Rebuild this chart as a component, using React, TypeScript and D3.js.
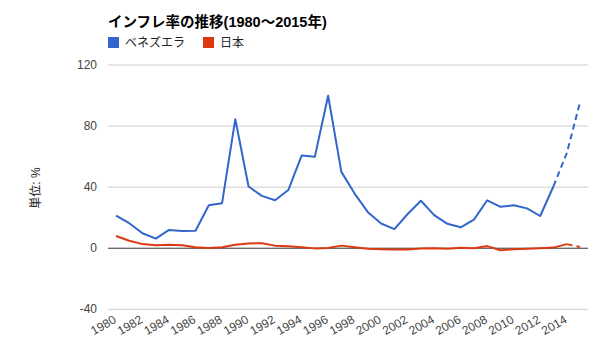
import React from "react";
import * as d3 from "d3";

const years = d3.range(1980, 2016).map(String);
const venezuela = [21.4, 16.4, 9.8, 6.3, 12.0, 11.3, 11.5, 28.2, 29.5, 84.5, 40.4, 34.3, 31.4, 38.1, 60.7, 59.9, 99.9, 50.0, 35.8, 23.6, 16.2, 12.5, 22.4, 31.1, 21.7, 16.0, 13.7, 18.7, 31.4, 27.1, 28.2, 26.1, 21.1, 40.6, 62.2, 95.5];
const japan = [8.0, 4.9, 2.7, 1.9, 2.3, 2.0, 0.6, 0.1, 0.7, 2.3, 3.1, 3.3, 1.7, 1.3, 0.7, -0.1, 0.1, 1.7, 0.7, -0.3, -0.7, -0.8, -0.9, -0.2, 0.0, -0.3, 0.3, 0.0, 1.4, -1.3, -0.7, -0.3, 0.0, 0.4, 2.7, 0.8];
const yTicks = [-40, 0, 40, 80, 120];
const xTickLabels = years.filter((_, i) => i % 2 === 0);
const seriesNames = ["ベネズエラ", "日本"];
const colors = ["#3366cc", "#dc3912"];
const projectedFrom = [2013, 2014];

const FONT = "Arial, 'Liberation Sans', 'Noto Sans CJK JP', sans-serif";

export default function App() {
  const W = 600, H = 360;
  const plotL = 108, plotR = 588;
  const x = d3.scalePoint<string>().domain(years).range([116, 580]);
  const y = d3.scaleLinear().domain([-40, 120]).range([309.3, 65]);

  const series = [venezuela, japan];

  return (
    <svg width={W} height={H} style={{ position: "absolute", left: 0, top: 0, background: "#fff" }} fontFamily={FONT}>
      <text x={108} y={27} fontSize={14.5} fontWeight="bold" fill="#000">インフレ率の推移(1980〜2015年)</text>
      {seriesNames.map((n, i) => {
        const lx = [108, 203][i];
        return (
          <g key={n}>
            <rect x={lx} y={37} width={11} height={11} fill={colors[i]} />
            <text x={lx + 17} y={47} fontSize={12} fill="#222">{n}</text>
          </g>
        );
      })}
      <text transform={`translate(40,${188}) rotate(-90)`} textAnchor="middle" fontSize={12} fill="#222">単位: %</text>
      {yTicks.map(t => (
        <g key={t}>
          <line x1={plotL} x2={plotR} y1={y(t)} y2={y(t)} stroke={t === 0 ? "#333" : "#ccc"} strokeWidth={1} />
          <text x={97} y={y(t) + 4} textAnchor="end" fontSize={12} fill="#444">{t}</text>
        </g>
      ))}
      {series.map((s, i) => {
        const cut = years.indexOf(String(projectedFrom[i]));
        const mk = (offset: number) => d3.line<number>().x((_, j) => x(years[j + offset])!).y(d => y(d));
        return (
          <g key={i} fill="none" stroke={colors[i]} strokeWidth={2}>
            <path d={mk(0)(s.slice(0, cut + 1))!} strokeLinejoin="round" />
            <path d={mk(cut)(s.slice(cut))!} strokeDasharray="6,4" />
          </g>
        );
      })}
      {xTickLabels.map(t => (
        <text
          key={t}
          transform={`translate(${x(t)! + 1},${322}) rotate(-30)`}
          textAnchor="end"
          fontSize={12}
          fill="#444"
        >{t}</text>
      ))}
    </svg>
  );
}
